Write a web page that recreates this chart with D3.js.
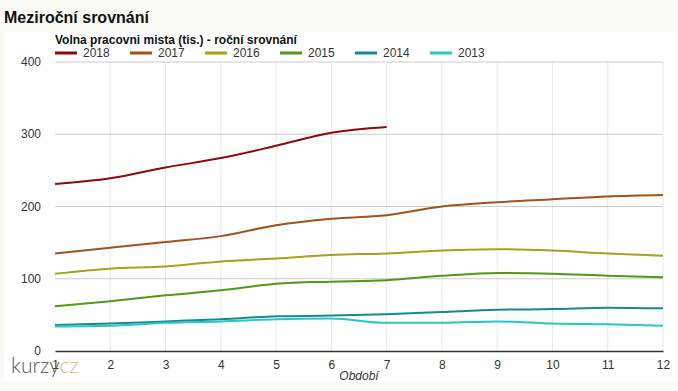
<!DOCTYPE html>
<html>
<head>
<meta charset="utf-8">
<script src="https://cdn.jsdelivr.net/npm/d3@7"></script>
<style>
  body { margin: 0; background: #fafaf5; font-family: "Liberation Sans", Arial, sans-serif; }
  svg { display: block; }
</style>
</head>
<body>
<svg width="678" height="391"></svg>
<script>
// data (tis. volnych mist)
let periods = [1, 2, 3, 4, 5, 6, 7, 8, 9, 10, 11, 12]
let years = ["2018", "2017", "2016", "2015", "2014", "2013"]
let colors = ["#8e0a0a", "#a0541c", "#a3a31c", "#4f9a19", "#198a8c", "#2bc6c8"]
let v2018 = [231, 239, 254, 267, 284, 302, 310]
let v2017 = [135, 143, 151, 159, 174, 183, 188, 200, 206, 210, 214, 216]
let v2016 = [107, 114, 117, 124, 128, 133, 135, 139, 141, 139, 135, 132]
let v2015 = [62, 69, 77, 84, 93, 96, 98, 104, 108, 107, 104, 102]
let v2014 = [36, 38, 41, 44, 48, 49, 51, 54, 57, 58, 60, 59]
let v2013 = [34, 35, 39, 41, 44, 45, 39, 39, 41, 38, 37, 35]
let yTicks = [0, 100, 200, 300, 400]

let series = [v2018, v2017, v2016, v2015, v2014, v2013]

let svg = d3.select("svg")
let margin = {top: 62, right: 15, bottom: 40, left: 55}
let width = 663 - margin.left
let height = 351 - margin.top

// page background + white panel
svg.append("rect").attr("x", 4).attr("y", 32).attr("width", 674).attr("height", 350).attr("fill", "#fff")

svg.append("text")
    .attr("x", 4).attr("y", 23)
    .attr("font-size", 16).attr("font-weight", "bold").attr("fill", "#111")
    .text("Meziroční srovnání")

svg.append("text")
    .attr("x", 55).attr("y", 44)
    .attr("font-size", 12).attr("font-weight", "bold").attr("fill", "#111")
    .text("Volna pracovni mista (tis.) - roční srovnání")

let x = d3.scaleLinear().domain([1, 12]).range([0, width])
let y = d3.scaleLinear().domain([0, 400]).range([height, 0])

let g = svg.append("g")
    .attr("transform", "translate(" + margin.left + "," + margin.top + ")")

// vertical grid
g.append("g").selectAll("line")
  .data(periods.slice(1))
  .enter().append("line")
    .attr("x1", d=>x(d)).attr("x2", d=>x(d))
    .attr("y1", 0).attr("y2", height)
    .attr("stroke", "#e8e8e8")

// horizontal grid
g.append("g").selectAll("line")
  .data(yTicks.slice(1))
  .enter().append("line")
    .attr("x1", 0).attr("x2", width)
    .attr("y1", d=>y(d)).attr("y2", d=>y(d))
    .attr("stroke", "#cccccc")

// y labels
g.append("g").selectAll("text")
  .data(yTicks)
  .enter().append("text")
    .attr("x", -14).attr("y", d=>y(d))
    .attr("dy", "0.35em")
    .attr("text-anchor", "end")
    .attr("font-size", 12).attr("fill", "#333")
    .text(d=>d)

// x axis
let xAxis = g.append("g")
    .attr("transform", "translate(0," + height + ")")
    .call(d3.axisBottom(x).tickValues(periods).tickFormat(d3.format("d")).tickSize(0).tickPadding(9))
xAxis.select(".domain").attr("stroke", "#333").attr("stroke-width", 1.5)
xAxis.selectAll("text").attr("font-size", 12).attr("fill", "#333").attr("font-family", "Liberation Sans, Arial, sans-serif")

g.append("text")
    .attr("x", x(6.5)).attr("y", height + 29)
    .attr("text-anchor", "middle")
    .attr("font-size", 12).attr("font-style", "italic").attr("fill", "#333")
    .text("Období")

// lines
let line = d3.line()
    .x((d, i)=>x(periods[i]))
    .y(d=>y(d))
    .curve(d3.curveMonotoneX)

g.selectAll(".serie")
  .data(series)
  .enter().append("path")
    .attr("class", "serie")
    .attr("d", d=>line(d))
    .attr("fill", "none")
    .attr("stroke", (d, i)=>colors[i])
    .attr("stroke-width", 2)

// legend
let legend = svg.append("g").selectAll("g")
  .data(years)
  .enter().append("g")
    .attr("transform", (d, i)=>"translate(" + (55 + i * 75) + ",53)")
legend.append("line")
    .attr("x1", 0).attr("x2", 22)
    .attr("stroke", (d, i)=>colors[i]).attr("stroke-width", 3)
legend.append("text")
    .attr("x", 28).attr("dy", "0.35em")
    .attr("font-size", 12).attr("fill", "#333")
    .text(d=>d)

// logo
let logo = svg.append("text")
    .attr("x", 11).attr("y", 373)
    .attr("font-size", 21).attr("font-weight", 300)
    .attr("font-family", "Lato, 'Open Sans', sans-serif")
logo.append("tspan").attr("fill", "#555").text("kurzy")
logo.append("tspan").attr("fill", "#d9b56a").text("cz")
</script>
</body>
</html>
